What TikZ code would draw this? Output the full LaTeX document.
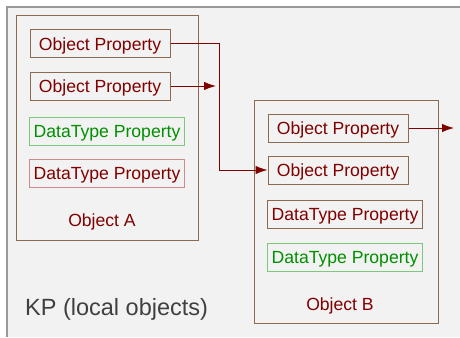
\documentclass[tikz,border=0pt]{standalone}
\usepackage{fontspec}
\setmainfont{Liberation Sans}
\usetikzlibrary{arrows.meta}
\definecolor{kpback}{HTML}{F2F2F2}
\definecolor{kpframe}{HTML}{999999}
\definecolor{objline}{HTML}{8C6A50}
\definecolor{objtext}{HTML}{800000}
\definecolor{dtgreen}{HTML}{009000}
\definecolor{dtgreenline}{HTML}{7CC87C}
\definecolor{dtredline}{HTML}{CC8A8A}
\tikzset{>={Latex[length=12pt,width=8.5pt]}}
\tikzset{
    prop/.style={draw=objline,line width=1pt,text=objtext,inner sep=0pt,
        minimum height=28pt,text height=12.6pt,text depth=0pt,
        font=\fontsize{17.6}{20}\selectfont},
    objprop/.style={prop,minimum width=140pt},
    dtprop/.style={prop,minimum width=155pt},
    dtgood/.style={dtprop,draw=dtgreenline,text=dtgreen},
    dtbad/.style={dtprop,draw=dtredline},
    objbox/.style={draw=objline,line width=1pt},
    objlabel/.style={text=objtext,inner sep=0pt,text height=12.6pt,text depth=0pt,
        font=\fontsize{17.6}{20}\selectfont},
    link/.style={->,draw=objtext,line width=1pt}
}

\begin{document}
\begin{tikzpicture}[x=1pt,y=-1pt]
            \useasboundingbox (0,0) rectangle (460,337);
            % knowledge processor area
            \fill[kpback] (7,7) rectangle (460,337);
            \draw[kpframe,line width=1.5pt] (7,337) -- (7,7) -- (460,7);
            \node[anchor=west,text=black!75,inner sep=0pt,text height=16.8pt,text depth=0pt,
                font=\fontsize{23.5}{26}\selectfont] (kp) at (25,307) {KP (local objects)};
            % object A
            \draw[objbox] (16,16) rectangle (198,240);
            \node[objprop] (opa1) at (100,44)  {Object Property};
            \node[objprop] (opa2) at (100,86)  {Object Property};
            \node[dtgood]  (dta1) at (107,131) {DataType Property};
            \node[dtbad]   (dta2) at (107,173) {DataType Property};
            \node[objlabel] (obja) at (102,220) {Object A};
            % object B
            \draw[objbox] (254,100) rectangle (438,323);
            \node[objprop] (opb1) at (338,128) {Object Property};
            \node[objprop] (opb2) at (338,170) {Object Property};
            \node[dtprop]  (dtb1) at (345,214) {DataType Property};
            \node[dtgood]  (dtb2) at (345,257) {DataType Property};
            \node[objlabel] (objb) at (340,304) {Object B};
            % links
            \coordinate (enda) at (216,86);
            \coordinate (endb) at (454,128);
            \draw[link] (opa1.east) -- ++(49,0) |- (opb2.west);
            \draw[link] (opa2.east) -- (enda);
            \draw[link] (opb1.east) -- (endb);
        \end{tikzpicture}
\end{document}
